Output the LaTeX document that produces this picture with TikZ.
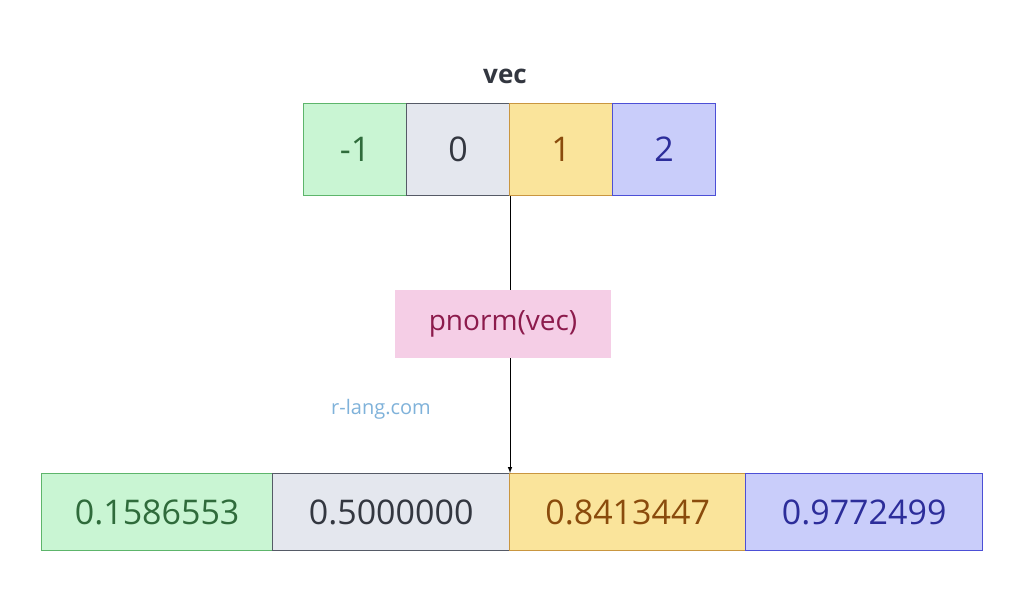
\documentclass[tikz,border=0pt]{standalone}
\usepackage{fontspec}
\setmainfont{Open Sans}
\usetikzlibrary{positioning}
\definecolor{gfill}{HTML}{C9F5D3}\definecolor{gline}{HTML}{5DB56B}\definecolor{gtext}{HTML}{2F6B3B}
\definecolor{sfill}{HTML}{E4E7EE}\definecolor{sline}{HTML}{555A66}\definecolor{stext}{HTML}{333740}
\definecolor{yfill}{HTML}{FAE49B}\definecolor{yline}{HTML}{C99640}\definecolor{ytext}{HTML}{8A4B0C}
\definecolor{bfill}{HTML}{C9CDFA}\definecolor{bline}{HTML}{4C4FD6}\definecolor{btext}{HTML}{2C2D9A}
\definecolor{pfill}{HTML}{F5CEE6}\definecolor{ptext}{HTML}{8C1B4C}
\definecolor{wtext}{HTML}{7FB2DA}
\tikzset{
  cell/.style={draw, line width=1.2pt, inner sep=0pt, anchor=north west},
  gcell/.style={cell, fill=gfill, draw=gline, text=gtext},
  scell/.style={cell, fill=sfill, draw=sline, text=stext},
  ycell/.style={cell, fill=yfill, draw=yline, text=ytext},
  bcell/.style={cell, fill=bfill, draw=bline, text=btext},
}
\begin{document}
\begin{tikzpicture}[x=1pt, y=-1pt]
  \useasboundingbox[fill=white] (0,0) rectangle (1024,592);

  % input vector
  \node[text=stext, font=\fontsize{26}{30}\selectfont\bfseries] (vec label) at (505,76) {vec};
  \foreach \s/\v/\i in {gcell/-1/0, scell/0/1, ycell/1/2, bcell/2/3}
    \node[\s, minimum width=103pt, minimum height=92pt, font=\fontsize{34}{40}\selectfont]
      (in \i) at (303+103*\i,103) {\v};

  % output vector
  \foreach \s/\v/\i/\x/\w in {gcell/0.1586553/0/41/231, scell/0.5000000/1/272/237,
                              ycell/0.8413447/2/509/236, bcell/0.9772499/3/745/237}
    \node[\s, minimum width=\w pt, minimum height=77pt, font=\fontsize{34}{40}\selectfont]
      (out \i) at (\x,473) {\v};

  % connector
  \coordinate (from) at (in 2.south west);
  \coordinate (to) at (out 2.north west);
  \draw[line width=1pt, -latex] ([xshift=1pt]from) -- ([xshift=1pt]to);
  \node[fill=pfill, text=ptext, minimum width=216pt, minimum height=68pt,
        font=\fontsize{28}{32}\selectfont] (fn) at (503,324) {pnorm(vec)};

  \node[text=wtext, font=\fontsize{20}{24}\selectfont] (site) at (381,409) {r-lang.com};
\end{tikzpicture}
\end{document}
